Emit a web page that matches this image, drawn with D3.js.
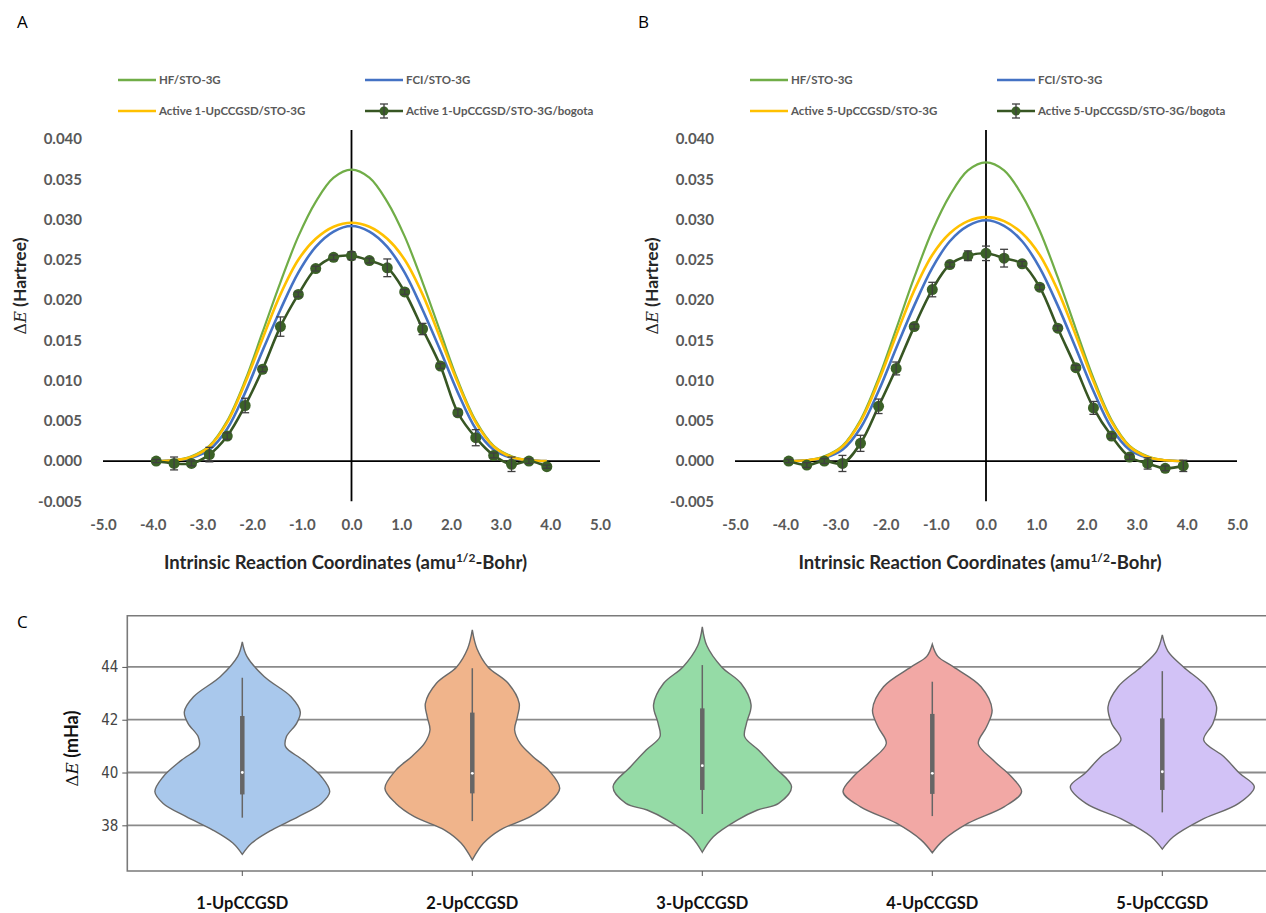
<!DOCTYPE html>
<html>
<head>
<meta charset="utf-8">
<script src="https://cdn.jsdelivr.net/npm/d3@7"></script>
<style>
  body { margin: 0; background: #fff; }
  text { font-family: Lato, "Open Sans", sans-serif; }
</style>
</head>
<body>
<script>
// ---- data: panels A and B (reaction path scans) ----
const irc = [-3.93, -3.57, -3.22, -2.86, -2.50, -2.14, -1.79, -1.43, -1.07, -0.72, -0.36, 0.00,
             0.36, 0.72, 1.07, 1.43, 1.79, 2.14, 2.50, 2.86, 3.22, 3.57, 3.93];
const ircTicks = [-5, -4, -3, -2, -1, 0, 1, 2, 3, 4, 5];
const dETicks = [-0.005, 0, 0.005, 0.010, 0.015, 0.020, 0.025, 0.030, 0.035, 0.040];

const hfA     = [0.0000, 0.0001, 0.0006, 0.0019, 0.0050, 0.0100, 0.0160, 0.0222, 0.0279, 0.0322, 0.0352, 0.0362,
                 0.0352, 0.0322, 0.0279, 0.0222, 0.0160, 0.0100, 0.0050, 0.0019, 0.0006, 0.0001, 0.0000];
const fciA    = [0.0000, 0.0001, 0.0004, 0.0014, 0.0040, 0.0085, 0.0137, 0.0188, 0.0234, 0.0266, 0.0285, 0.0292,
                 0.0285, 0.0266, 0.0234, 0.0188, 0.0137, 0.0085, 0.0040, 0.0014, 0.0004, 0.0001, 0.0000];
const activeA = [0.0000, 0.0001, 0.0005, 0.0018, 0.0048, 0.0097, 0.0152, 0.0207, 0.0250, 0.0276, 0.0291, 0.0296,
                 0.0291, 0.0276, 0.0250, 0.0207, 0.0152, 0.0097, 0.0048, 0.0018, 0.0005, 0.0001, 0.0000];
const bogotaA = [0.0000, -0.0003, -0.0003, 0.0008, 0.0031, 0.0069, 0.0114, 0.0167, 0.0207, 0.0239, 0.0253, 0.0255,
                 0.0249, 0.0240, 0.0210, 0.0164, 0.0118, 0.0060, 0.0029, 0.0007, -0.0004, 0.0000, -0.0007];
const errA    = [0.0002, 0.0008, 0.0003, 0.0009, 0.0004, 0.0009, 0.0003, 0.0012, 0.0003, 0.0003, 0.0003, 0.0005,
                 0.0003, 0.0011, 0.0003, 0.0007, 0.0003, 0.0004, 0.0010, 0.0003, 0.0009, 0.0003, 0.0002];

const hfB     = [0.0000, 0.0001, 0.0006, 0.0019, 0.0051, 0.0103, 0.0164, 0.0228, 0.0286, 0.0330, 0.0361, 0.0371,
                 0.0361, 0.0330, 0.0286, 0.0228, 0.0164, 0.0103, 0.0051, 0.0019, 0.0006, 0.0001, 0.0000];
const fciB    = [0.0000, 0.0001, 0.0004, 0.0014, 0.0041, 0.0087, 0.0140, 0.0193, 0.0240, 0.0273, 0.0292, 0.0299,
                 0.0292, 0.0273, 0.0240, 0.0193, 0.0140, 0.0087, 0.0041, 0.0014, 0.0004, 0.0001, 0.0000];
const activeB = [0.0000, 0.0001, 0.0005, 0.0018, 0.0049, 0.0099, 0.0156, 0.0212, 0.0256, 0.0283, 0.0298, 0.0303,
                 0.0298, 0.0283, 0.0256, 0.0212, 0.0156, 0.0099, 0.0049, 0.0018, 0.0005, 0.0001, 0.0000];
const bogotaB = [0.0000, -0.0005, 0.0000, -0.0003, 0.0022, 0.0068, 0.0115, 0.0167, 0.0213, 0.0244, 0.0255, 0.0258,
                 0.0252, 0.0245, 0.0216, 0.0165, 0.0116, 0.0066, 0.0031, 0.0005, -0.0003, -0.0009, -0.0006];
const errB    = [0.0002, 0.0003, 0.0003, 0.0010, 0.0010, 0.0009, 0.0008, 0.0003, 0.0009, 0.0003, 0.0006, 0.0009,
                 0.0011, 0.0003, 0.0003, 0.0003, 0.0003, 0.0008, 0.0003, 0.0003, 0.0007, 0.0003, 0.0007];

// ---- data: panel C (violins) ----
const methods = ["1-UpCCGSD", "2-UpCCGSD", "3-UpCCGSD", "4-UpCCGSD", "5-UpCCGSD"];
const mhaTicks = [38, 40, 42, 44];
// [value (mHa), relative density]
const profile1 = [[44.95,0],[44.40,0.05],[43.63,0.24],[42.87,0.53],[42.30,0.63],[41.86,0.59],[41.36,0.48],[40.98,0.47],
                  [40.47,0.66],[39.84,0.86],[39.27,0.95],[38.83,0.86],[38.33,0.61],[37.82,0.32],[37.32,0.10],[36.90,0]];
const profile2 = [[45.40,0],[44.70,0.05],[44.00,0.17],[43.38,0.39],[42.62,0.51],[42.11,0.49],[41.61,0.46],[41.10,0.52],
                  [40.60,0.66],[40.09,0.83],[39.40,0.95],[38.83,0.83],[38.33,0.63],[37.82,0.30],[37.32,0.12],[36.69,0]];
const profile3 = [[45.52,0],[44.80,0.05],[44.00,0.21],[43.38,0.42],[42.56,0.53],[41.86,0.48],[41.36,0.46],[40.85,0.61],
                  [40.22,0.78],[39.46,0.97],[38.83,0.83],[38.58,0.60],[38.20,0.38],[37.57,0.12],[36.98,0]];
const profile4 = [[44.86,0],[44.40,0.06],[44.00,0.23],[43.25,0.53],[42.37,0.65],[41.73,0.59],[41.10,0.50],[40.47,0.66],
                  [39.84,0.86],[39.27,0.97],[38.70,0.78],[38.08,0.39],[37.44,0.12],[36.96,0]];
const profile5 = [[45.21,0],[44.60,0.06],[44.00,0.23],[43.25,0.48],[42.49,0.59],[41.86,0.55],[41.23,0.45],[40.60,0.67],
                  [39.97,0.84],[39.46,1.00],[38.83,0.83],[38.20,0.42],[37.57,0.12],[37.10,0]];
const q1s      = [39.17, 39.21, 39.34, 39.19, 39.34];
const q3s      = [42.14, 42.27, 42.43, 42.22, 42.05];
const whiskLo  = [38.29, 38.16, 38.43, 38.35, 38.49];
const whiskHi  = [43.59, 43.95, 44.07, 43.44, 43.84];
const medians  = [40.00, 39.97, 40.26, 39.97, 40.03];
const violinColors = ["#a9c8ec", "#f0b48b", "#95dba6", "#f2a8a5", "#d2c2f6"];

const W = 1266, H = 913;
const svg = d3.select("body").append("svg").attr("width", W).attr("height", H);

const grey = "#595959";

function drawPanel(p) {
  const x = d3.scaleLinear().domain([-5, 5]).range(p.xr);
  const y = d3.scaleLinear().domain([-0.005, 0.040]).range(p.yr);
  const g = svg.append("g");

  g.append("text").attr("x", p.letterX).attr("y", 28).text(p.letter)
    .style("font-family", "'Open Sans'").style("font-size", "17px");

  // y tick labels
  g.append("g").attr("transform", `translate(${p.xr[0] - 21},0)`)
    .call(d3.axisLeft(y).tickValues(dETicks).tickSize(0).tickPadding(0).tickFormat(d => d.toFixed(3)))
    .call(a => a.select(".domain").remove())
    .selectAll("text").style("font-family", "Lato").style("font-size", "15px")
      .style("font-weight", "bold").attr("fill", grey);

  // x tick labels
  g.append("g").attr("transform", `translate(0,${p.yr[0] + 15})`)
    .call(d3.axisBottom(x).tickValues(ircTicks).tickSize(0).tickPadding(3).tickFormat(d => d.toFixed(1)))
    .call(a => a.select(".domain").remove())
    .selectAll("text").style("font-family", "Lato").style("font-size", "15px")
      .style("font-weight", "bold").attr("fill", grey);

  // axis titles
  const yt = g.append("text").attr("transform", `translate(${p.xr[0] - 77},286) rotate(-90)`)
    .attr("text-anchor", "middle").style("font-size", "17.5px").attr("fill", "#262626");
  yt.append("tspan").text("Δ").style("font-family", "'DejaVu Serif'").style("font-size", "16px");
  yt.append("tspan").text("E").style("font-family", "'DejaVu Serif'").style("font-style", "italic").style("font-size", "16px");
  yt.append("tspan").text(" (Hartree)").style("font-weight", "bold");

  const xt = g.append("text").attr("x", (p.xr[0] + p.xr[1]) / 2 - 6).attr("y", p.yr[0] + 68)
    .attr("text-anchor", "middle").style("font-size", "18.5px").style("font-weight", "bold").attr("fill", "#262626");
  xt.append("tspan").text("Intrinsic Reaction Coordinates (amu");
  xt.append("tspan").text("1/2").attr("dy", -7).style("font-size", "12px");
  xt.append("tspan").text("-Bohr)").attr("dy", 7);

  // axis lines through origin
  g.append("line").attr("x1", x(-5)).attr("x2", x(5)).attr("y1", y(0)).attr("y2", y(0))
    .attr("stroke", "#000").attr("stroke-width", 1.8);
  g.append("line").attr("x1", x(0)).attr("x2", x(0)).attr("y1", y(-0.005)).attr("y2", y(0.040) - 9)
    .attr("stroke", "#000").attr("stroke-width", 1.8);

  const line = d3.line().x((d, i) => x(irc[i])).y(d => y(d)).curve(d3.curveCatmullRom);
  const series = [
    {vals: p.hf, color: "#70ad47", w: 2.2},
    {vals: p.fci, color: "#4472c4", w: 2.6},
    {vals: p.active, color: "#ffc000", w: 2.6},
    {vals: p.bogota, color: "#375623", w: 2.6}
  ];
  series.forEach(s => {
    g.append("path").attr("d", line(s.vals)).attr("fill", "none")
      .attr("stroke", s.color).attr("stroke-width", s.w);
  });

  // markers
  g.selectAll(null).data(p.bogota).enter().append("circle")
    .attr("cx", (d, i) => x(irc[i])).attr("cy", d => y(d)).attr("r", 5.5).attr("fill", "#3b6127");

  // error bars
  const eb = g.selectAll(null).data(p.bogota).enter().append("g").attr("stroke", "#3f3f3f").attr("stroke-width", 1.3);
  eb.append("line").attr("x1", (d, i) => x(irc[i])).attr("x2", (d, i) => x(irc[i]))
    .attr("y1", (d, i) => y(d - p.err[i])).attr("y2", (d, i) => y(d + p.err[i]));
  [-1, 1].forEach(sg => {
    eb.append("line").attr("x1", (d, i) => x(irc[i]) - 4).attr("x2", (d, i) => x(irc[i]) + 4)
      .attr("y1", (d, i) => y(d + sg * p.err[i])).attr("y2", (d, i) => y(d + sg * p.err[i]));
  });

  // legend
  const items = [
    {label: "HF/STO-3G", color: "#70ad47", lx: p.legX[0], ly: 80},
    {label: "FCI/STO-3G", color: "#4472c4", lx: p.legX[1], ly: 80},
    {label: p.activeLabel, color: "#ffc000", lx: p.legX[0], ly: 111},
    {label: p.bogotaLabel, color: "#375623", lx: p.legX[1], ly: 111, marker: true}
  ];
  items.forEach(it => {
    const lg = g.append("g");
    lg.append("line").attr("x1", it.lx).attr("x2", it.lx + 38).attr("y1", it.ly).attr("y2", it.ly)
      .attr("stroke", it.color).attr("stroke-width", 2.6);
    if (it.marker) {
      lg.append("circle").attr("cx", it.lx + 19).attr("cy", it.ly).attr("r", 4.5).attr("fill", "#3b6127");
      lg.append("line").attr("x1", it.lx + 19).attr("x2", it.lx + 19).attr("y1", it.ly - 7).attr("y2", it.ly + 7)
        .attr("stroke", "#3f3f3f").attr("stroke-width", 1.3);
      [-7, 7].forEach(o => lg.append("line").attr("x1", it.lx + 15).attr("x2", it.lx + 23)
        .attr("y1", it.ly + o).attr("y2", it.ly + o).attr("stroke", "#3f3f3f").attr("stroke-width", 1.3));
    }
    lg.append("text").attr("x", it.lx + 41).attr("y", it.ly + 4).text(it.label)
      .style("font-size", "11.5px").style("font-weight", "bold").attr("fill", grey);
  });
}

drawPanel({
  letter: "A", letterX: 17, xr: [103, 600], yr: [501.3, 139],
  hf: hfA, fci: fciA, active: activeA, bogota: bogotaA, err: errA,
  legX: [118, 365],
  activeLabel: "Active 1-UpCCGSD/STO-3G", bogotaLabel: "Active 1-UpCCGSD/STO-3G/bogota"
});
drawPanel({
  letter: "B", letterX: 638, xr: [735, 1237], yr: [501.3, 139],
  hf: hfB, fci: fciB, active: activeB, bogota: bogotaB, err: errB,
  legX: [750, 997],
  activeLabel: "Active 5-UpCCGSD/STO-3G", bogotaLabel: "Active 5-UpCCGSD/STO-3G/bogota"
});

// ---- panel C: violins ----
const profiles = [profile1, profile2, profile3, profile4, profile5];
const cx = d3.scaleBand().domain(methods).range([127.3, 1277.3]);
const cy = d3.scaleLinear().domain([36.27, 45.94]).range([871, 615.7]);
const wScale = d3.scaleLinear().domain([0, 1]).range([0, cx.bandwidth() * 0.4]);
const gc = svg.append("g");

gc.append("text").attr("x", 17).attr("y", 628).text("C")
  .style("font-family", "'Open Sans'").style("font-size", "17px");

gc.selectAll(null).data(mhaTicks).enter().append("line")
  .attr("x1", 127.3).attr("x2", 1277.3).attr("y1", d => cy(d)).attr("y2", d => cy(d))
  .attr("stroke", "#8a8a8a").attr("stroke-width", 1.8);

// frame
gc.append("path")
  .attr("d", `M1277.3,${cy(45.94)}H127.3V${cy(36.27)}H1277.3`)
  .attr("fill", "none").attr("stroke", "#7a7a7a").attr("stroke-width", 1.6);

gc.append("g").attr("transform", "translate(127.3,0)")
  .call(d3.axisLeft(cy).tickValues(mhaTicks).tickSize(5).tickPadding(4))
  .call(a => a.select(".domain").remove())
  .call(a => a.selectAll("line").attr("stroke", "#555"))
  .selectAll("text").style("font-family", "'Liberation Sans Narrow', 'DejaVu Sans Condensed', sans-serif")
    .style("font-size", "15px").attr("fill", "#444");

gc.append("g").attr("transform", "translate(0,871)")
  .call(d3.axisBottom(cx).tickSize(5).tickPadding(21))
  .call(a => a.select(".domain").remove())
  .call(a => a.selectAll("line").attr("stroke", "#555"))
  .selectAll("text").style("font-family", "Lato").style("font-size", "16.5px")
    .style("font-weight", "bold").attr("fill", "#111");

const yc = gc.append("text").attr("transform", `translate(78,${cy(40.9)}) rotate(-90)`)
  .attr("text-anchor", "middle").style("font-size", "18px").attr("fill", "#111");
yc.append("tspan").text("Δ").style("font-family", "'DejaVu Serif'").style("font-size", "17px");
yc.append("tspan").text("E").style("font-family", "'DejaVu Serif'").style("font-style", "italic").style("font-size", "17px");
yc.append("tspan").text(" (mHa)").style("font-weight", "bold");

methods.forEach((m, i) => {
  const c = cx(m) + cx.bandwidth() / 2;
  const area = d3.area().y(d => cy(d[0]))
    .x0(d => c - wScale(d[1])).x1(d => c + wScale(d[1]))
    .curve(d3.curveCatmullRom.alpha(0.5));
  gc.append("path").attr("d", area(profiles[i])).attr("fill", violinColors[i])
    .attr("stroke", "#6a6a6a").attr("stroke-width", 1.4);
  gc.append("line").attr("x1", c).attr("x2", c).attr("y1", cy(whiskLo[i])).attr("y2", cy(whiskHi[i]))
    .attr("stroke", "#666").attr("stroke-width", 1.5);
  gc.append("line").attr("x1", c).attr("x2", c).attr("y1", cy(q1s[i])).attr("y2", cy(q3s[i]))
    .attr("stroke", "#666").attr("stroke-width", 4.5);
  gc.append("circle").attr("cx", c).attr("cy", cy(medians[i])).attr("r", 1.4).attr("fill", "#fff");
});
</script>
</body>
</html>
